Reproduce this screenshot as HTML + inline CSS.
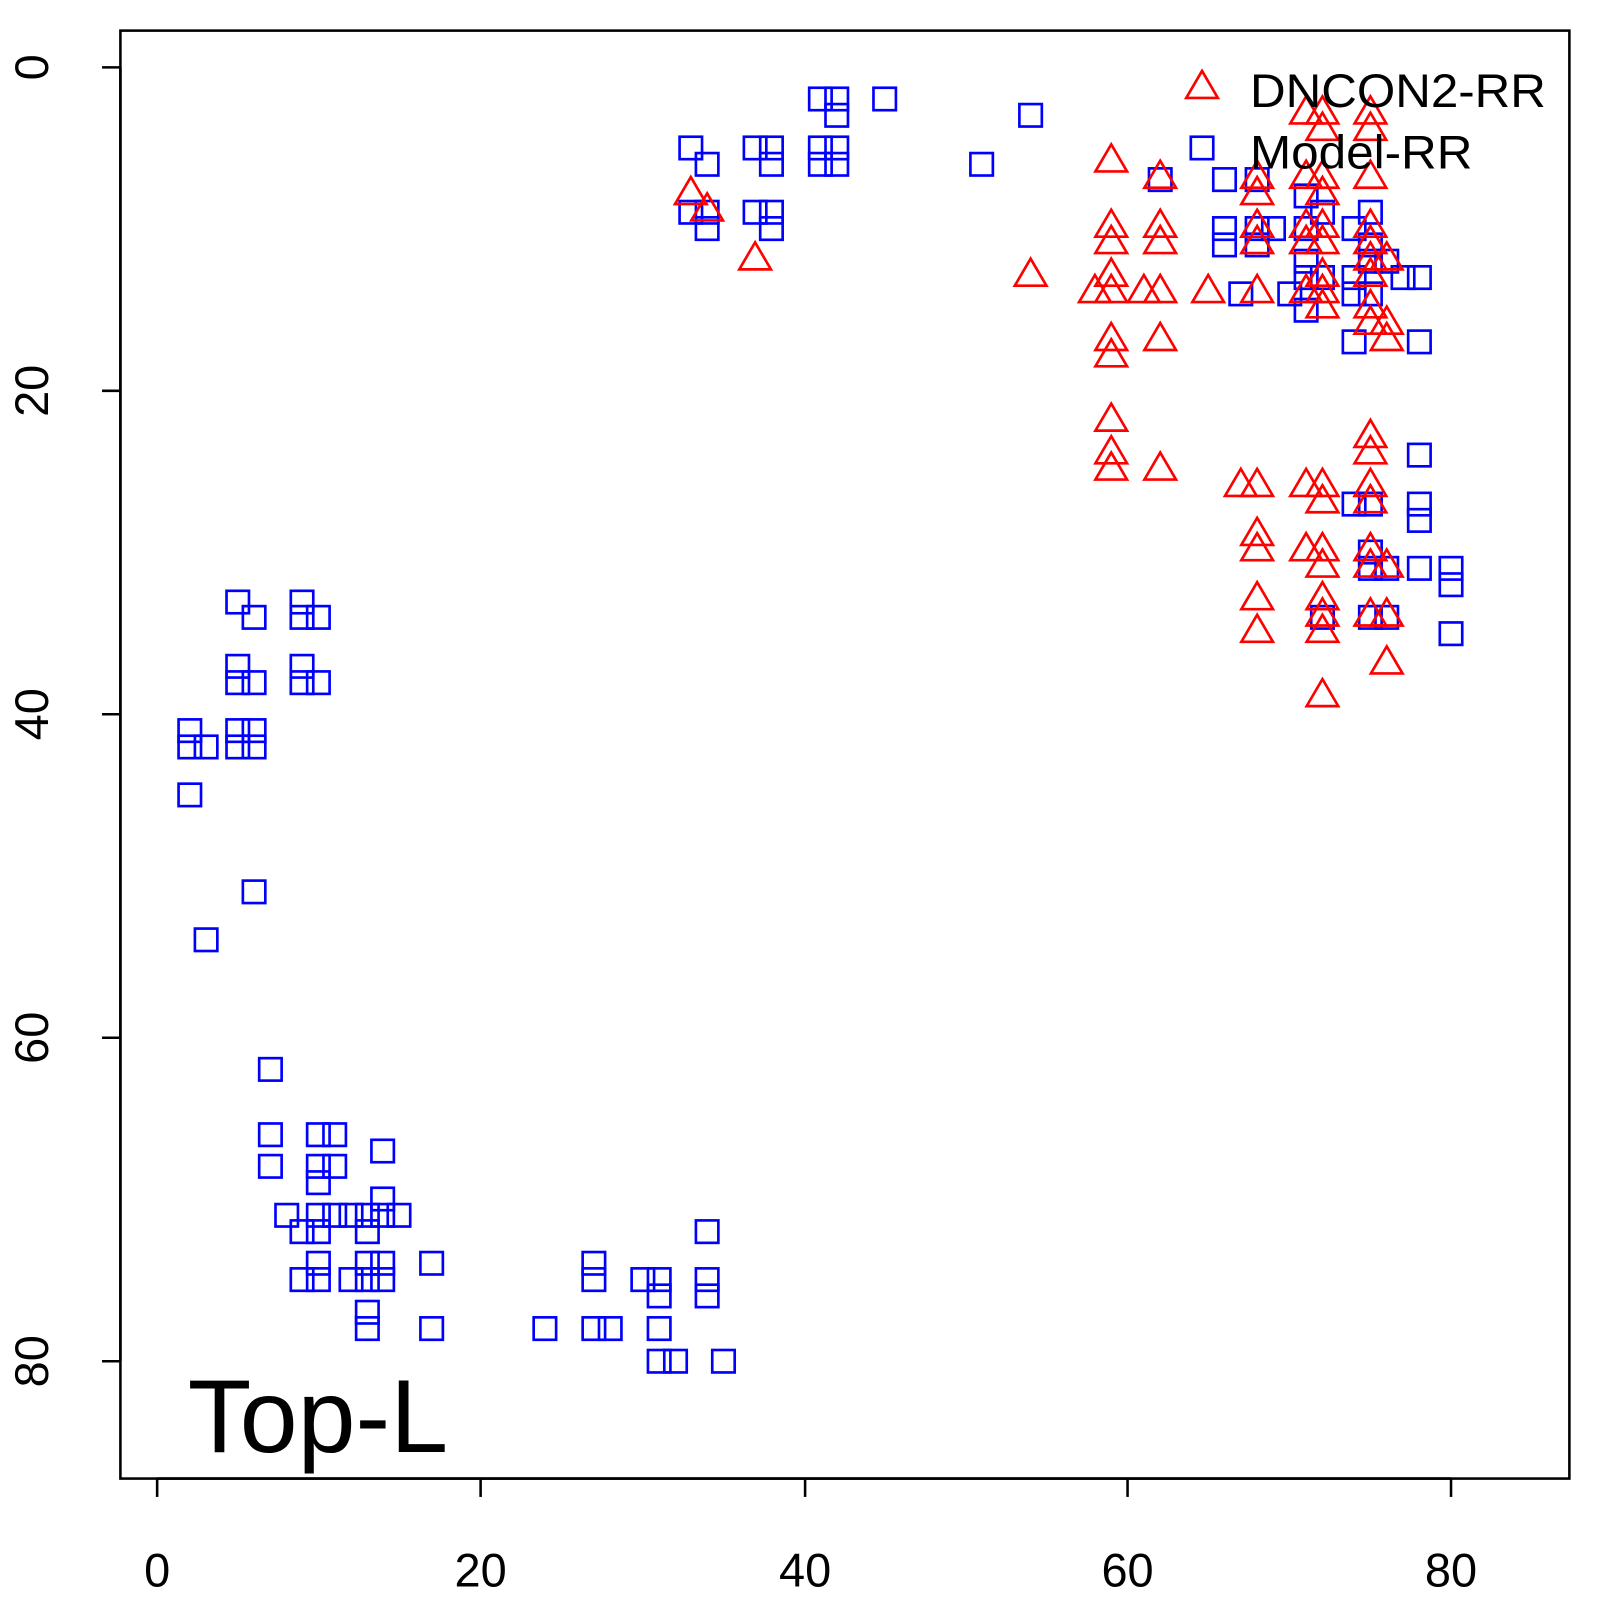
<!DOCTYPE html>
<html><head><meta charset="utf-8"><style>html,body{margin:0;padding:0;background:#fff}svg{display:block}</style></head>
<body>
<svg width="1600" height="1600" viewBox="0 0 1568 1568" xmlns="http://www.w3.org/2000/svg" font-family="Liberation Sans, sans-serif">
<defs>
<rect id="s" x="-11" y="-11" width="22" height="22" fill="none" stroke="#0000ff" stroke-width="2.6"/>
<polygon id="t" points="-15.5,11 15.5,11 0,-15.5" fill="none" stroke="#ff0000" stroke-width="2.6"/>
</defs>
<rect x="118" y="30" width="1420" height="1419" fill="none" stroke="#000" stroke-width="2.5"/>
<g stroke="#000" stroke-width="2.5">
<line x1="154" y1="1449" x2="1422" y2="1449"/>
<line x1="154" y1="1449" x2="154" y2="1467"/><line x1="471" y1="1449" x2="471" y2="1467"/><line x1="789" y1="1449" x2="789" y2="1467"/><line x1="1105" y1="1449" x2="1105" y2="1467"/><line x1="1422" y1="1449" x2="1422" y2="1467"/>
<line x1="118" y1="66" x2="118" y2="1334"/>
<line x1="100" y1="66" x2="118" y2="66"/><line x1="100" y1="383" x2="118" y2="383"/><line x1="100" y1="700" x2="118" y2="700"/><line x1="100" y1="1017" x2="118" y2="1017"/><line x1="100" y1="1334" x2="118" y2="1334"/>
</g>
<g font-size="46" text-anchor="middle" fill="#000">
<text x="154" y="1555">0</text><text x="471" y="1555">20</text><text x="789" y="1555">40</text><text x="1105" y="1555">60</text><text x="1422" y="1555">80</text>
<text transform="translate(47,66) rotate(-90)">0</text>
<text transform="translate(47,383) rotate(-90)">20</text>
<text transform="translate(47,700) rotate(-90)">40</text>
<text transform="translate(47,1017) rotate(-90)">60</text>
<text transform="translate(47,1334) rotate(-90)">80</text>
</g>
<g>
<use href="#s" x="186" y="716"/><use href="#s" x="186" y="732"/><use href="#s" x="202" y="732"/><use href="#s" x="186" y="779"/><use href="#s" x="233" y="590"/><use href="#s" x="233" y="653"/><use href="#s" x="233" y="669"/><use href="#s" x="233" y="716"/><use href="#s" x="233" y="732"/><use href="#s" x="249" y="605"/><use href="#s" x="249" y="669"/><use href="#s" x="249" y="716"/><use href="#s" x="249" y="732"/><use href="#s" x="296" y="590"/><use href="#s" x="296" y="605"/><use href="#s" x="312" y="605"/><use href="#s" x="296" y="653"/><use href="#s" x="296" y="669"/><use href="#s" x="312" y="669"/><use href="#s" x="249" y="874"/><use href="#s" x="202" y="921"/>
<use href="#s" x="265" y="1048"/><use href="#s" x="265" y="1112"/><use href="#s" x="265" y="1143"/><use href="#s" x="312" y="1112"/><use href="#s" x="328" y="1112"/><use href="#s" x="312" y="1143"/><use href="#s" x="328" y="1143"/><use href="#s" x="312" y="1159"/><use href="#s" x="375" y="1128"/><use href="#s" x="375" y="1175"/><use href="#s" x="281" y="1191"/><use href="#s" x="312" y="1191"/><use href="#s" x="328" y="1191"/><use href="#s" x="344" y="1191"/><use href="#s" x="360" y="1191"/><use href="#s" x="375" y="1191"/><use href="#s" x="391" y="1191"/><use href="#s" x="296" y="1207"/><use href="#s" x="312" y="1207"/><use href="#s" x="360" y="1207"/><use href="#s" x="312" y="1238"/><use href="#s" x="360" y="1238"/><use href="#s" x="375" y="1238"/><use href="#s" x="423" y="1238"/><use href="#s" x="296" y="1254"/><use href="#s" x="312" y="1254"/><use href="#s" x="344" y="1254"/><use href="#s" x="360" y="1254"/><use href="#s" x="375" y="1254"/><use href="#s" x="360" y="1286"/><use href="#s" x="360" y="1302"/><use href="#s" x="423" y="1302"/>
<use href="#s" x="534" y="1302"/><use href="#s" x="582" y="1238"/><use href="#s" x="582" y="1254"/><use href="#s" x="582" y="1302"/><use href="#s" x="598" y="1302"/><use href="#s" x="630" y="1254"/><use href="#s" x="646" y="1254"/><use href="#s" x="646" y="1270"/><use href="#s" x="646" y="1302"/><use href="#s" x="646" y="1334"/><use href="#s" x="662" y="1334"/><use href="#s" x="693" y="1207"/><use href="#s" x="693" y="1254"/><use href="#s" x="693" y="1270"/><use href="#s" x="709" y="1334"/>
<use href="#s" x="677" y="145"/><use href="#s" x="693" y="161"/><use href="#s" x="677" y="208"/><use href="#s" x="693" y="208"/><use href="#s" x="693" y="224"/><use href="#s" x="740" y="145"/><use href="#s" x="756" y="145"/><use href="#s" x="756" y="161"/><use href="#s" x="740" y="208"/><use href="#s" x="756" y="208"/><use href="#s" x="756" y="224"/><use href="#s" x="804" y="97"/><use href="#s" x="820" y="97"/><use href="#s" x="820" y="113"/><use href="#s" x="804" y="145"/><use href="#s" x="820" y="145"/><use href="#s" x="804" y="161"/><use href="#s" x="820" y="161"/><use href="#s" x="867" y="97"/><use href="#s" x="1010" y="113"/><use href="#s" x="962" y="161"/>
<use href="#s" x="1178" y="145"/>
<use href="#s" x="1137" y="176"/><use href="#s" x="1200" y="176"/><use href="#s" x="1232" y="176"/><use href="#s" x="1200" y="224"/><use href="#s" x="1200" y="240"/><use href="#s" x="1232" y="224"/><use href="#s" x="1232" y="240"/><use href="#s" x="1248" y="224"/><use href="#s" x="1280" y="192"/><use href="#s" x="1280" y="224"/><use href="#s" x="1280" y="256"/><use href="#s" x="1280" y="272"/><use href="#s" x="1296" y="208"/><use href="#s" x="1296" y="272"/><use href="#s" x="1264" y="288"/><use href="#s" x="1280" y="304"/><use href="#s" x="1216" y="288"/><use href="#s" x="1327" y="224"/><use href="#s" x="1343" y="208"/><use href="#s" x="1343" y="240"/><use href="#s" x="1343" y="256"/><use href="#s" x="1327" y="272"/><use href="#s" x="1327" y="288"/><use href="#s" x="1343" y="288"/><use href="#s" x="1359" y="256"/><use href="#s" x="1375" y="272"/><use href="#s" x="1391" y="272"/><use href="#s" x="1327" y="335"/><use href="#s" x="1391" y="335"/><use href="#s" x="1391" y="446"/><use href="#s" x="1327" y="494"/><use href="#s" x="1343" y="494"/><use href="#s" x="1391" y="494"/><use href="#s" x="1391" y="510"/><use href="#s" x="1343" y="541"/><use href="#s" x="1343" y="557"/><use href="#s" x="1359" y="557"/><use href="#s" x="1391" y="557"/><use href="#s" x="1422" y="557"/><use href="#s" x="1422" y="573"/><use href="#s" x="1343" y="605"/><use href="#s" x="1359" y="605"/><use href="#s" x="1422" y="621"/><use href="#s" x="1296" y="605"/>
</g>
<g>
<use href="#t" x="1178" y="85"/>
<use href="#t" x="677" y="189"/><use href="#t" x="693" y="205"/><use href="#t" x="740" y="253"/><use href="#t" x="1010" y="269"/><use href="#t" x="1089" y="157"/><use href="#t" x="1089" y="221"/><use href="#t" x="1089" y="237"/><use href="#t" x="1089" y="269"/><use href="#t" x="1089" y="285"/><use href="#t" x="1073" y="285"/><use href="#t" x="1121" y="285"/><use href="#t" x="1137" y="285"/><use href="#t" x="1137" y="221"/><use href="#t" x="1137" y="237"/><use href="#t" x="1137" y="173"/><use href="#t" x="1137" y="332"/><use href="#t" x="1089" y="332"/><use href="#t" x="1089" y="348"/><use href="#t" x="1089" y="411"/><use href="#t" x="1089" y="443"/><use href="#t" x="1089" y="459"/><use href="#t" x="1137" y="459"/><use href="#t" x="1184" y="285"/><use href="#t" x="1216" y="475"/><use href="#t" x="1232" y="475"/><use href="#t" x="1232" y="173"/><use href="#t" x="1232" y="189"/><use href="#t" x="1232" y="221"/><use href="#t" x="1232" y="237"/><use href="#t" x="1232" y="285"/><use href="#t" x="1232" y="523"/><use href="#t" x="1232" y="538"/><use href="#t" x="1232" y="586"/><use href="#t" x="1232" y="618"/>
<use href="#t" x="1280" y="110"/><use href="#t" x="1296" y="110"/><use href="#t" x="1296" y="126"/><use href="#t" x="1280" y="173"/><use href="#t" x="1296" y="173"/><use href="#t" x="1296" y="189"/><use href="#t" x="1280" y="221"/><use href="#t" x="1280" y="237"/><use href="#t" x="1296" y="221"/><use href="#t" x="1296" y="237"/><use href="#t" x="1280" y="285"/><use href="#t" x="1296" y="269"/><use href="#t" x="1296" y="285"/><use href="#t" x="1296" y="300"/><use href="#t" x="1280" y="475"/><use href="#t" x="1296" y="475"/><use href="#t" x="1296" y="491"/><use href="#t" x="1280" y="538"/><use href="#t" x="1296" y="538"/><use href="#t" x="1296" y="554"/><use href="#t" x="1296" y="586"/><use href="#t" x="1296" y="602"/><use href="#t" x="1296" y="618"/><use href="#t" x="1296" y="681"/>
<use href="#t" x="1343" y="110"/><use href="#t" x="1343" y="126"/><use href="#t" x="1343" y="173"/><use href="#t" x="1343" y="221"/><use href="#t" x="1343" y="237"/><use href="#t" x="1343" y="253"/><use href="#t" x="1343" y="269"/><use href="#t" x="1343" y="300"/><use href="#t" x="1343" y="316"/><use href="#t" x="1359" y="253"/><use href="#t" x="1359" y="316"/><use href="#t" x="1359" y="332"/><use href="#t" x="1343" y="427"/><use href="#t" x="1343" y="443"/><use href="#t" x="1343" y="475"/><use href="#t" x="1343" y="491"/><use href="#t" x="1343" y="538"/><use href="#t" x="1343" y="554"/><use href="#t" x="1359" y="554"/><use href="#t" x="1343" y="602"/><use href="#t" x="1359" y="602"/><use href="#t" x="1359" y="649"/>
</g>
<g font-size="46" fill="#000">
<text x="1225" y="105" textLength="290" lengthAdjust="spacingAndGlyphs">DNCON2-RR</text>
<text x="1225" y="165" textLength="218" lengthAdjust="spacingAndGlyphs">Model-RR</text>
</g>
<text x="184" y="1423" font-size="102" fill="#000">Top-L</text>
</svg>
</body></html>
